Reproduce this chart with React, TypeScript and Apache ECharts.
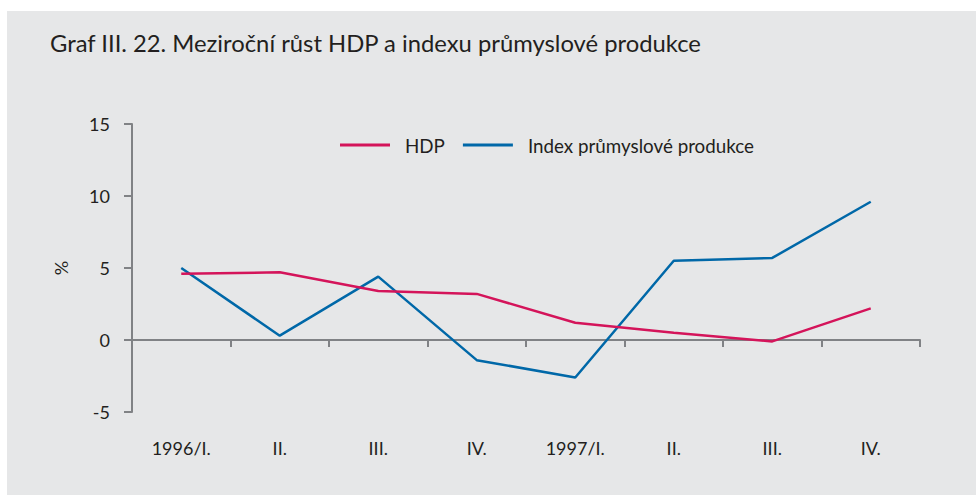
import React, { useEffect, useRef } from "react";
import * as echarts from "echarts";

const categories = ["1996/I.", "II.", "III.", "IV.", "1997/I.", "II.", "III.", "IV."];
const hdp = [4.6, 4.7, 3.4, 3.2, 1.2, 0.5, -0.1, 2.2];
const ipp = [5.0, 0.3, 4.4, -1.4, -2.6, 5.5, 5.7, 9.6];
const yMin = -5;
const yMax = 15;
const yStep = 5;

const FONT = "Lato, 'Open Sans', sans-serif";
const TEXT = "#231f20";
const AXIS = "#808285";
const RED = "#d4145a";
const BLUE = "#0068a8";

export default function App() {
  const ref = useRef<HTMLDivElement>(null);
  useEffect(() => {
    if (!ref.current) return;
    const chart = echarts.init(ref.current, undefined, { renderer: "svg" });
    chart.setOption({
      animation: false,
      backgroundColor: "#ffffff",
      textStyle: { fontFamily: FONT },
      graphic: [
        {
          type: "rect",
          z: -10,
          silent: true,
          shape: { x: 7, y: 11, width: 976, height: 495 },
          style: { fill: "#e6e7e8" },
        },
        {
          type: "text",
          left: 50,
          top: 31,
          style: {
            text: "Graf III. 22. Meziroční růst HDP a indexu průmyslové produkce",
            fontFamily: FONT,
            fontSize: 23.8,
            fill: TEXT,
          },
        },
      ],
      legend: {
        left: 340,
        top: 135.5,
        padding: 0,
        icon: "rect",
        itemWidth: 50,
        itemHeight: 3,
        itemGap: 18,
        textStyle: { fontFamily: FONT, fontSize: 18.8, color: TEXT, padding: [0, 0, 0, 10] },
        data: ["HDP", "Index průmyslové produkce"],
      },
      grid: { left: 132, right: 56, top: 124, bottom: 83 },
      xAxis: [
        {
          type: "category",
          data: categories,
          boundaryGap: true,
          axisLine: { onZero: true, lineStyle: { color: AXIS, width: 2 } },
          axisTick: { show: true, length: 7, lineStyle: { color: AXIS, width: 2 } },
          axisLabel: { show: false },
          splitLine: { show: false },
        },
        {
          type: "category",
          data: categories,
          position: "bottom",
          boundaryGap: true,
          axisLine: { show: false, onZero: false },
          axisTick: { show: false },
          axisLabel: { margin: 27, fontFamily: FONT, fontSize: 18, color: TEXT },
        },
      ],
      yAxis: {
        type: "value",
        min: yMin,
        max: yMax,
        interval: yStep,
        name: "%",
        nameLocation: "middle",
        nameGap: 62,
        nameRotate: 90,
        nameTextStyle: { fontFamily: FONT, fontSize: 18, color: TEXT },
        axisLine: { show: true, lineStyle: { color: AXIS, width: 2 } },
        axisTick: { show: true, length: 8, lineStyle: { color: AXIS, width: 2 } },
        axisLabel: { margin: 22, fontFamily: FONT, fontSize: 18, color: TEXT },
        splitLine: { show: false },
      },
      series: [
        {
          name: "HDP",
          type: "line",
          data: hdp,
          symbol: "none",
          lineStyle: { color: RED, width: 2.5 },
          itemStyle: { color: RED },
          z: 3,
        },
        {
          name: "Index průmyslové produkce",
          type: "line",
          data: ipp,
          symbol: "none",
          lineStyle: { color: BLUE, width: 2.5 },
          itemStyle: { color: BLUE },
          z: 2,
        },
      ],
    });
    return () => chart.dispose();
  }, []);
  return (
    <div
      ref={ref}
      style={{ position: "absolute", left: 0, top: 0, width: 976, height: 495 }}
    />
  );
}
